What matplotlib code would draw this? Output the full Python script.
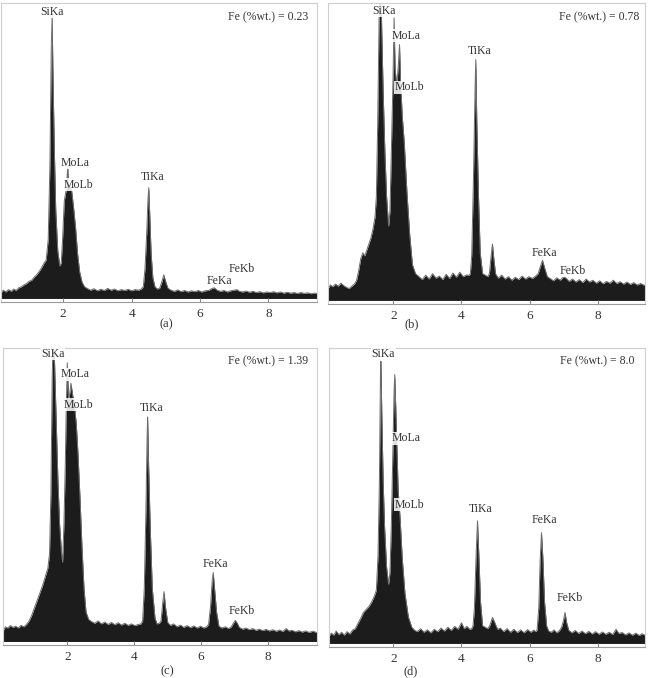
import matplotlib
matplotlib.use("Agg")
from matplotlib import pyplot as plt

# EDS spectra, energy in keV, counts as fraction of panel height
energy_a = [0.18, 0.25, 0.32, 0.40, 0.48, 0.55, 0.62, 0.70, 0.78, 0.85, 0.92, 1.00, 1.08, 1.15, 1.22, 1.30, 1.37, 1.44,
            1.50, 1.56, 1.61, 1.65, 1.675, 1.70, 1.74, 1.78, 1.84, 1.90,
            1.94, 1.98, 2.03, 2.09, 2.13, 2.15, 2.19, 2.24, 2.30, 2.36, 2.42, 2.48, 2.55, 2.62,
            2.70, 2.80, 2.90, 3.00, 3.10, 3.20, 3.30, 3.40, 3.50, 3.60, 3.70, 3.80, 3.90, 4.00, 4.10, 4.20, 4.28,
            4.34, 4.39, 4.44, 4.475, 4.50, 4.53, 4.57, 4.62, 4.68, 4.75,
            4.82, 4.88, 4.94, 5.00, 5.06,
            5.15, 5.25, 5.35, 5.45, 5.55, 5.65, 5.75, 5.85, 5.95, 6.05, 6.15, 6.25, 6.35, 6.42, 6.50, 6.60, 6.70,
            6.80, 6.90, 7.00, 7.08, 7.15, 7.25, 7.35, 7.45, 7.55, 7.65, 7.75, 7.85, 7.95, 8.05, 8.15, 8.25, 8.35,
            8.45, 8.55, 8.65, 8.75, 8.85, 8.95, 9.05, 9.15, 9.25, 9.35, 9.42]
counts_a = [0.020, 0.028, 0.022, 0.030, 0.024, 0.032, 0.027, 0.036, 0.040, 0.046, 0.050, 0.058, 0.062, 0.072, 0.080, 0.092, 0.105, 0.120,
            0.13, 0.20, 0.45, 0.85, 0.96, 0.75, 0.50, 0.30, 0.16, 0.11,
            0.12, 0.20, 0.33, 0.37, 0.445, 0.39, 0.38, 0.37, 0.31, 0.24, 0.15, 0.09, 0.055, 0.04,
            0.034, 0.028, 0.033, 0.026, 0.031, 0.027, 0.034, 0.028, 0.032, 0.026, 0.030, 0.027, 0.031, 0.026, 0.030, 0.028, 0.032,
            0.04, 0.10, 0.22, 0.33, 0.375, 0.28, 0.15, 0.07, 0.04, 0.032,
            0.035, 0.055, 0.08, 0.055, 0.035,
            0.028, 0.024, 0.029, 0.023, 0.027, 0.022, 0.026, 0.023, 0.027, 0.022, 0.026, 0.027, 0.034, 0.036, 0.028, 0.024, 0.027,
            0.022, 0.026, 0.028, 0.030, 0.024, 0.022, 0.025, 0.021, 0.024, 0.020, 0.023, 0.019, 0.022, 0.020, 0.023, 0.019, 0.022,
            0.018, 0.021, 0.018, 0.020, 0.017, 0.020, 0.017, 0.019, 0.016, 0.018, 0.017]

energy_b = [0.08, 0.15, 0.22, 0.30, 0.38, 0.46, 0.54, 0.62, 0.70, 0.78, 0.86, 0.92, 0.98, 1.04, 1.10, 1.16, 1.22, 1.28, 1.34, 1.40, 1.46,
            1.50, 1.54, 1.58, 1.61, 1.65, 1.70, 1.75, 1.80, 1.86,
            1.90, 1.95, 1.99, 2.02, 2.05, 2.10, 2.15, 2.18, 2.21, 2.26, 2.32, 2.40, 2.48, 2.56, 2.65,
            2.75, 2.85, 2.95, 3.05, 3.15, 3.25, 3.35, 3.45, 3.55, 3.65, 3.75, 3.85, 3.95, 4.05, 4.15, 4.22,
            4.26, 4.30, 4.35, 4.40, 4.42, 4.45, 4.50, 4.55, 4.62, 4.70, 4.77,
            4.82, 4.87, 4.91, 4.95, 5.00,
            5.08, 5.18, 5.28, 5.38, 5.48, 5.58, 5.68, 5.78, 5.88, 5.98, 6.08, 6.18,
            6.25, 6.32, 6.38, 6.44, 6.52,
            6.60, 6.70, 6.80, 6.90, 7.00, 7.08, 7.16, 7.26, 7.36, 7.46, 7.56, 7.66, 7.76, 7.86, 7.96, 8.06, 8.16,
            8.26, 8.36, 8.46, 8.56, 8.66, 8.76, 8.86, 8.96, 9.06, 9.16, 9.26, 9.39]
counts_b = [0.040, 0.052, 0.046, 0.055, 0.048, 0.058, 0.050, 0.044, 0.040, 0.048, 0.056, 0.068, 0.10, 0.14, 0.16, 0.15, 0.17, 0.19, 0.21, 0.24, 0.28,
            0.35, 0.60, 0.95, 1.05, 0.95, 0.70, 0.50, 0.35, 0.25,
            0.30, 0.55, 0.75, 0.95, 0.78, 0.72, 0.80, 0.86, 0.74, 0.62, 0.53, 0.36, 0.22, 0.12, 0.09,
            0.080, 0.070, 0.085, 0.072, 0.090, 0.075, 0.082, 0.070, 0.088, 0.074, 0.092, 0.078, 0.095, 0.080, 0.086, 0.084,
            0.09, 0.15, 0.40, 0.72, 0.81, 0.60, 0.35, 0.16, 0.09, 0.085, 0.080,
            0.09, 0.15, 0.19, 0.14, 0.09,
            0.075, 0.085, 0.072, 0.080, 0.068, 0.078, 0.070, 0.082, 0.072, 0.080, 0.074, 0.082,
            0.09, 0.115, 0.135, 0.11, 0.08,
            0.074, 0.066, 0.076, 0.068, 0.080, 0.074, 0.064, 0.072, 0.062, 0.070, 0.060, 0.072, 0.062, 0.068, 0.058, 0.066, 0.056,
            0.064, 0.058, 0.068, 0.057, 0.063, 0.055, 0.062, 0.054, 0.060, 0.052, 0.057, 0.050]

energy_c = [0.08, 0.15, 0.22, 0.30, 0.38, 0.46, 0.54, 0.62, 0.70, 0.78, 0.86, 0.94, 1.02, 1.10, 1.18, 1.26, 1.34, 1.42,
            1.47, 1.51, 1.55, 1.58, 1.62, 1.67, 1.72, 1.77, 1.83, 1.86,
            1.90, 1.94, 1.97, 2.00, 2.04, 2.08, 2.11, 2.16, 2.21, 2.27, 2.32, 2.38, 2.44, 2.50, 2.56, 2.64,
            2.72, 2.82, 2.92, 3.02, 3.12, 3.22, 3.32, 3.42, 3.52, 3.62, 3.72, 3.82, 3.92, 4.02, 4.12, 4.20,
            4.25, 4.30, 4.35, 4.385, 4.40, 4.43, 4.48, 4.54, 4.62, 4.68, 4.75,
            4.80, 4.85, 4.89, 4.93, 5.00,
            5.08, 5.18, 5.28, 5.38, 5.48, 5.58, 5.68, 5.78, 5.88, 5.98, 6.08, 6.16,
            6.22, 6.28, 6.33, 6.36, 6.40, 6.46, 6.53,
            6.62, 6.72, 6.82, 6.90, 6.96, 7.02, 7.08, 7.14, 7.24, 7.34, 7.44, 7.54, 7.64, 7.74, 7.84, 7.94, 8.04,
            8.14, 8.24, 8.34, 8.44, 8.54, 8.62, 8.72, 8.82, 8.92, 9.02, 9.12, 9.22, 9.34, 9.46]
counts_c = [0.035, 0.050, 0.046, 0.054, 0.048, 0.052, 0.046, 0.055, 0.050, 0.058, 0.070, 0.090, 0.115, 0.14, 0.165, 0.19, 0.22, 0.25,
            0.30, 0.50, 0.90, 1.05, 0.95, 0.75, 0.55, 0.40, 0.30, 0.27,
            0.40, 0.60, 0.80, 0.95, 0.82, 0.85, 0.88, 0.84, 0.81, 0.74, 0.64, 0.49, 0.32, 0.18, 0.10, 0.075,
            0.068, 0.062, 0.070, 0.060, 0.066, 0.058, 0.065, 0.057, 0.064, 0.056, 0.062, 0.055, 0.060, 0.054, 0.058, 0.060,
            0.07, 0.18, 0.45, 0.70, 0.765, 0.60, 0.38, 0.18, 0.08, 0.06, 0.062,
            0.07, 0.13, 0.17, 0.12, 0.065,
            0.055, 0.060, 0.050, 0.056, 0.048, 0.054, 0.047, 0.053, 0.046, 0.052, 0.046, 0.050,
            0.058, 0.12, 0.21, 0.235, 0.18, 0.10, 0.052,
            0.046, 0.050, 0.044, 0.050, 0.062, 0.072, 0.062, 0.048, 0.042, 0.046, 0.040, 0.044, 0.038, 0.042, 0.037, 0.041, 0.036,
            0.040, 0.035, 0.039, 0.034, 0.044, 0.036, 0.038, 0.033, 0.037, 0.032, 0.036, 0.031, 0.035, 0.030]

energy_d = [0.11, 0.18, 0.25, 0.32, 0.40, 0.48, 0.56, 0.64, 0.72, 0.80, 0.88, 0.96, 1.04, 1.12, 1.20, 1.28, 1.36, 1.44,
            1.50, 1.55, 1.59, 1.62, 1.635, 1.66, 1.70, 1.74, 1.80, 1.86,
            1.90, 1.94, 1.98, 2.02, 2.04, 2.07, 2.10, 2.14, 2.20, 2.26, 2.34, 2.44, 2.54, 2.62,
            2.70, 2.80, 2.90, 3.00, 3.10, 3.20, 3.30, 3.40, 3.50, 3.60, 3.70, 3.80, 3.90, 4.00, 4.08, 4.16, 4.24, 4.30,
            4.34, 4.38, 4.43, 4.47, 4.51, 4.56, 4.62, 4.70, 4.77,
            4.83, 4.91, 4.98, 5.06,
            5.14, 5.24, 5.34, 5.44, 5.54, 5.64, 5.74, 5.84, 5.94, 6.04, 6.12, 6.18,
            6.22, 6.27, 6.31, 6.35, 6.39, 6.44, 6.50, 6.56,
            6.64, 6.72, 6.80, 6.88,
            6.94, 6.99, 7.04, 7.09, 7.15,
            7.24, 7.34, 7.44, 7.54, 7.64, 7.74, 7.84, 7.94, 8.04, 8.14, 8.24, 8.34, 8.44, 8.54, 8.62, 8.72,
            8.82, 8.92, 9.02, 9.12, 9.22, 9.30, 9.39]
counts_d = [0.025, 0.035, 0.028, 0.042, 0.030, 0.038, 0.028, 0.040, 0.032, 0.045, 0.050, 0.068, 0.085, 0.105, 0.115, 0.125, 0.14, 0.16,
            0.18, 0.30, 0.55, 0.90, 0.955, 0.78, 0.55, 0.40, 0.26, 0.20,
            0.24, 0.40, 0.62, 0.85, 0.91, 0.80, 0.68, 0.52, 0.42, 0.29, 0.17, 0.09, 0.055, 0.045,
            0.040, 0.050, 0.038, 0.046, 0.036, 0.048, 0.040, 0.052, 0.042, 0.055, 0.044, 0.058, 0.048, 0.070, 0.050, 0.058, 0.048, 0.050,
            0.06, 0.12, 0.30, 0.415, 0.30, 0.14, 0.06, 0.055, 0.050,
            0.06, 0.088, 0.07, 0.048,
            0.052, 0.040, 0.050, 0.038, 0.048, 0.037, 0.046, 0.036, 0.047, 0.038, 0.045, 0.040,
            0.045, 0.12, 0.28, 0.375, 0.29, 0.14, 0.06, 0.042,
            0.038, 0.046, 0.036, 0.044,
            0.055, 0.075, 0.105, 0.07, 0.045,
            0.036, 0.044, 0.034, 0.042, 0.033, 0.041, 0.032, 0.040, 0.031, 0.039, 0.031, 0.038, 0.030, 0.048, 0.034, 0.037,
            0.029, 0.036, 0.028, 0.035, 0.027, 0.033, 0.028]

peak_names = ["SiKa", "MoLa", "MoLb", "TiKa", "FeKa", "FeKb"]
label_x_a = [1.68, 2.36, 2.45, 4.61, 6.56, 7.23]
label_y_a = [0.97, 0.46, 0.385, 0.41, 0.06, 0.10]
label_x_b = [1.71, 2.36, 2.46, 4.54, 6.43, 7.27]
label_y_b = [0.974, 0.89, 0.716, 0.84, 0.16, 0.10]
label_x_c = [1.56, 2.22, 2.33, 4.52, 6.42, 7.22]
label_y_c = [0.98, 0.91, 0.807, 0.795, 0.265, 0.103]
label_x_d = [1.71, 2.36, 2.48, 4.55, 6.43, 7.17]
label_y_d = [0.98, 0.694, 0.469, 0.454, 0.419, 0.154]

fe_content = ["0.23", "0.78", "1.39", "8.0"]
panel_tags = ["(a)", "(b)", "(c)", "(d)"]

plt.rcParams["font.family"] = ["Liberation Serif", "DejaVu Serif"]

fig = plt.figure(figsize=(6.48, 6.78), dpi=100)

# axes rectangles in pixels: left, top, right, bottom
boxes = [(1, 3, 317, 302), (328, 3, 645, 304), (3, 348, 317, 645), (329, 348, 645, 647)]
xlims = [(0.18, 9.42), (0.08, 9.39), (0.08, 9.46), (0.11, 9.39)]
fe_pos = [(9.17, 0.95), (9.23, 0.952), (9.19, 0.955), (9.08, 0.955)]
tag_pos = [(166, 324), (412, 324), (167, 671), (411, 671)]

spectra = [(energy_a, counts_a, label_x_a, label_y_a),
           (energy_b, counts_b, label_x_b, label_y_b),
           (energy_c, counts_c, label_x_c, label_y_c),
           (energy_d, counts_d, label_x_d, label_y_d)]

W, H = 648, 678
for i, (e, c, lx, ly) in enumerate(spectra):
    l, t, r, b = boxes[i]
    ax = fig.add_axes([l / W, 1 - b / H, (r - l) / W, (b - t) / H])
    ax.fill_between(e, 0, c, color="#1c1c1c", linewidth=0)
    ax.plot(e, c, color="#6e6e6e", linewidth=0.7)
    ax.set_xlim(*xlims[i])
    ax.set_ylim(-0.012, 1.0)
    ax.set_xticks([2, 4, 6, 8])
    ax.set_yticks([])
    ax.tick_params(axis="x", direction="in", length=3, color="#888888",
                   labelsize=9.5, labelcolor="#333333", pad=4)
    for s in ax.spines.values():
        s.set_color("#cfcfcf")
        s.set_linewidth(0.8)
    ax.spines["bottom"].set_color("#9a9a9a")
    for name, x, y in zip(peak_names, lx, ly):
        ax.text(x, y, name, ha="center", va="center", fontsize=8.5, color="#333333",
                bbox=dict(facecolor="white", edgecolor="none", pad=0.3, alpha=0.85))
    fx, fy = fe_pos[i]
    ax.text(fx, fy, "Fe (%wt.) = " + fe_content[i], ha="right", va="center",
            fontsize=8.5, color="#333333")
    tx, ty = tag_pos[i]
    fig.text(tx / W, 1 - ty / H, panel_tags[i], ha="center", va="center",
             fontsize=9, color="#333333")

plt.savefig("out.png", dpi=100)
